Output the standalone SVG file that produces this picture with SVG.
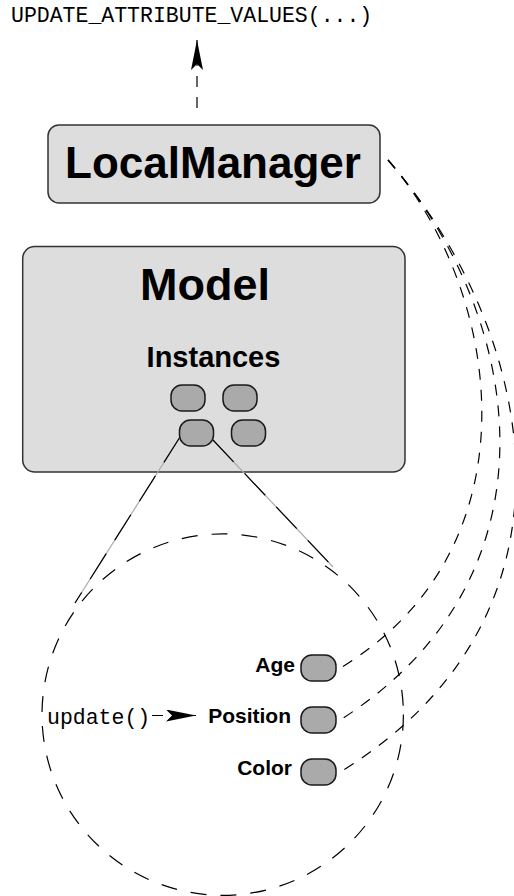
<svg xmlns="http://www.w3.org/2000/svg" width="514" height="896" viewBox="0 0 514 896">
<style>
.box{fill:#dddddd;stroke:#333333;stroke-width:1.5}
.pill{fill:#aaaaaa;stroke:#1a1a1a;stroke-width:1.5}
.title{font-family:"Liberation Sans",Arial,sans-serif;font-weight:bold;fill:#000}
.mono{font-family:"Liberation Mono","Courier New",monospace;fill:#000}
.dash{fill:none;stroke:#000;stroke-width:1.2;stroke-dasharray:11 10}
.circ{fill:none;stroke:#000;stroke-width:1.2;stroke-dasharray:16 14}
.zoomg{fill:none;stroke:#aaaaaa;stroke-width:1.2}
.zoomb{fill:none;stroke:#000;stroke-width:1.2;stroke-dasharray:30 16}
</style>
<defs>
<marker id="arr" viewBox="0 0 30 12" refX="30" refY="6" markerWidth="30" markerHeight="12" markerUnits="userSpaceOnUse" orient="auto">
<path d="M0,0 L30,6 L0,12 L6,6 Z" fill="#000"/>
</marker>
</defs>
<text class="mono" x="11" y="22" font-size="21.5">UPDATE_ATTRIBUTE_VALUES(...)</text>
<g id="localmanager">
<rect class="box" x="48" y="125" width="332" height="78" rx="11"/>
<text class="title" x="213" y="177.5" font-size="44" text-anchor="middle">LocalManager</text>
</g>
<g id="model">
<rect class="box" x="22.7" y="246.5" width="382.3" height="225.5" rx="12"/>
<text class="title" x="205" y="300" font-size="45" text-anchor="middle">Model</text>
<text class="title" x="213.5" y="367" font-size="29" text-anchor="middle">Instances</text>
<rect class="pill" x="171" y="385" width="34" height="26" rx="11"/>
<rect class="pill" x="223" y="385" width="34" height="26" rx="11"/>
<rect class="pill" x="179.5" y="420" width="34" height="26" rx="11"/>
<rect class="pill" x="231.5" y="420" width="34" height="26" rx="11"/>
</g>
<g id="age">
<text class="title" x="295" y="672" font-size="21" text-anchor="end">Age</text>
<rect class="pill" x="301" y="655" width="35" height="26" rx="11"/>
</g>
<g id="position">
<text class="title" x="291" y="723" font-size="21" text-anchor="end">Position</text>
<rect class="pill" x="301" y="707" width="35" height="26" rx="11"/>
</g>
<g id="color">
<text class="title" x="292" y="775" font-size="21" text-anchor="end">Color</text>
<rect class="pill" x="301" y="759" width="35" height="26" rx="11"/>
</g>
<g id="update">
<text class="mono" x="47" y="724" font-size="21.5">update()</text>
</g>
<g id="connectors">
<path class="dash" d="M197,108 L197,40" marker-end="url(#arr)"/>
<path class="dash" d="M152,715.5 L196,715.5" marker-end="url(#arr)"/>
<line class="zoomg" x1="180" y1="437" x2="75" y2="603"/>
<line class="zoomb" x1="180" y1="437" x2="75" y2="603"/>
<line class="zoomg" x1="213" y1="440" x2="333" y2="567"/>
<line class="zoomb" x1="213" y1="440" x2="333" y2="567"/>
<circle class="circ" cx="222.7" cy="714.6" r="180.7"/>
<path class="dash" d="M388,160 C503.5,292.8 539.5,551 337,670"/>
<path class="dash" d="M388,160 C523.5,315.8 567.8,577.5 337,722"/>
<path class="dash" d="M388,160 C534,328 600,615 337,774"/>
</g>
</svg>
